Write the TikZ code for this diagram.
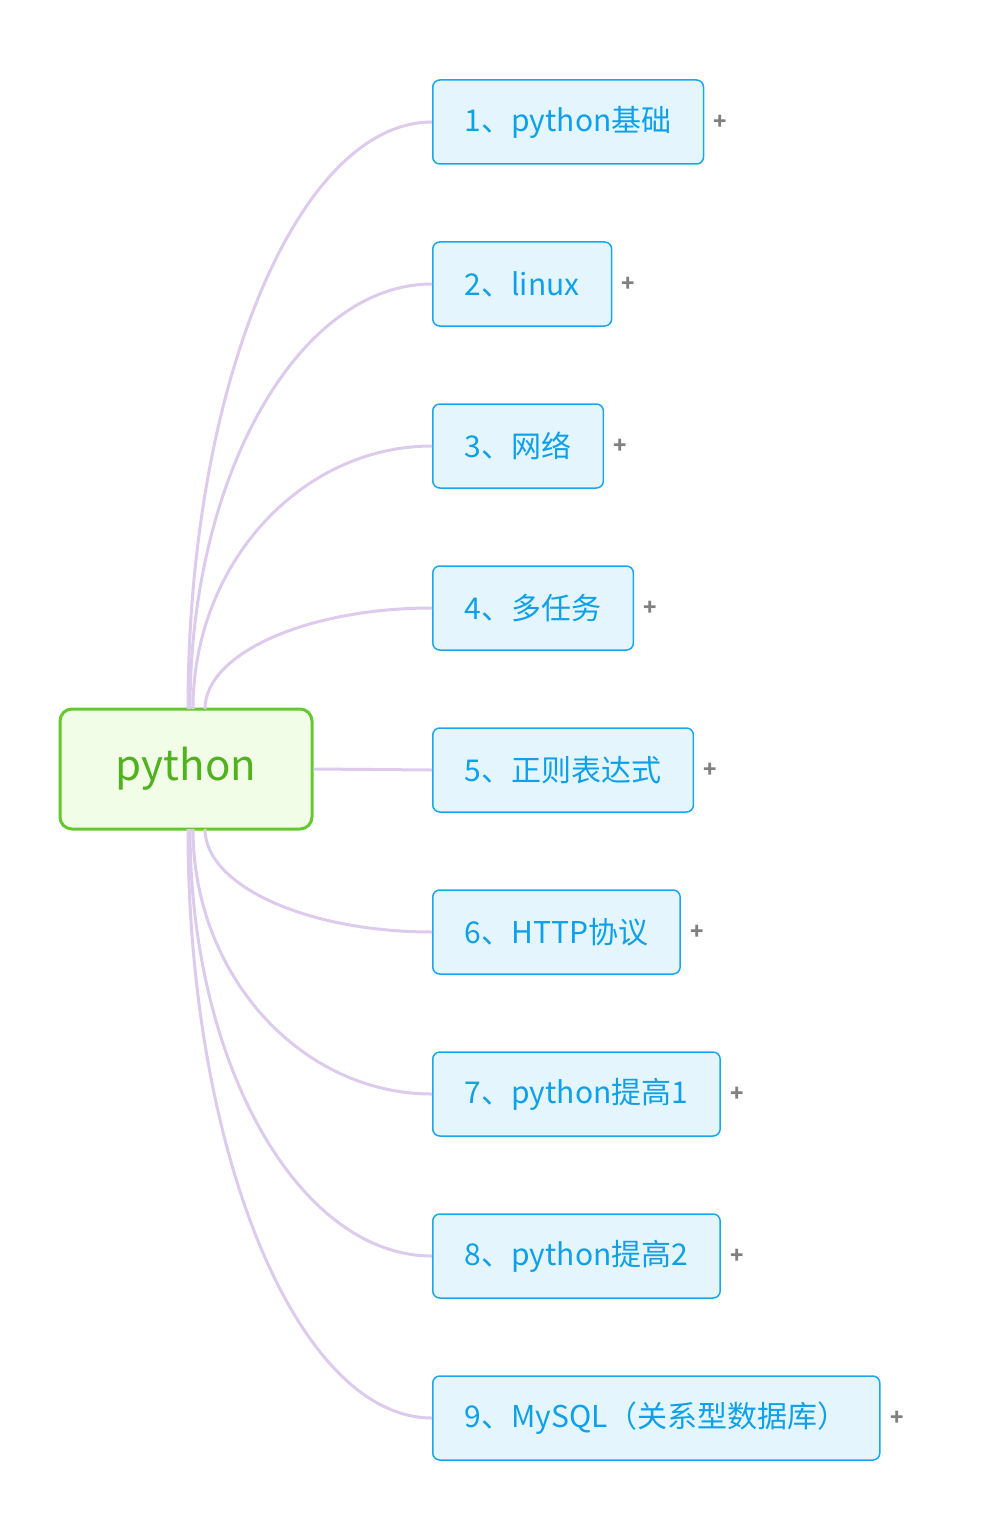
\documentclass[tikz,border=0pt]{standalone}
\usepackage{fontspec}
\setmainfont{Noto Sans CJK SC}
\begin{document}
\begin{tikzpicture}[x=1pt,y=-1pt,
  child/.style={draw=cb,fill=cf,text=ct,line width=1.5pt,rounded corners=7pt,minimum height=84pt,anchor=west,inner xsep=32pt,font=\fontsize{30}{33}\selectfont},
  conn/.style={draw=lc,line width=3pt},
  plus/.style={text=gray,font=\fontsize{22}{22}\selectfont\bfseries}]
\definecolor{cb}{HTML}{1AA7F0}\definecolor{cf}{HTML}{E4F5FD}\definecolor{ct}{HTML}{0EA1E9}
\definecolor{lc}{HTML}{DDCBEE}\definecolor{gb}{HTML}{63C92F}\definecolor{gf}{HTML}{F1FDE7}\definecolor{gt}{HTML}{4FB21E}
\useasboundingbox (0,0) rectangle (992,1538);
\node[draw=gb,fill=gf,text=gt,line width=3pt,rounded corners=12pt,minimum width=252pt,minimum height=120pt,font=\fontsize{42}{46}\selectfont] (root) at (186,769) {python};
\foreach \i/\y/\t in {1/122/{1、python基础},2/284/{2、linux},3/446/{3、网络},4/608/{4、多任务},5/770/{5、正则表达式},6/932/{6、HTTP协议},7/1094/{7、python提高1},8/1256/{8、python提高2},9/1418/{9、MySQL（关系型数据库）}}{
  \node[child] (c\i) at (432,\y) {\t};
  \node[plus,anchor=west] (p\i) at ([xshift=6pt]c\i.east) {+};
}
\draw[conn] (root.east) -- (c5.west);
\foreach \i/\sx/\sy/\cy in {1/188/709/122,2/190/709/284,3/193/709/446,4/205/709/608,6/205/829/932,7/193/829/1094,8/190/829/1256,9/188/829/1418}{
  \pgfmathsetmacro\ma{\sy+(\cy-\sy)*0.55}
  \pgfmathsetmacro\mb{\sx+(432-\sx)*0.45}
  \coordinate (s\i) at (\sx,\sy);
  \draw[conn] (s\i) .. controls (\sx,\ma) and (\mb,\cy) .. (c\i.west);
}
\end{tikzpicture}
\end{document}
